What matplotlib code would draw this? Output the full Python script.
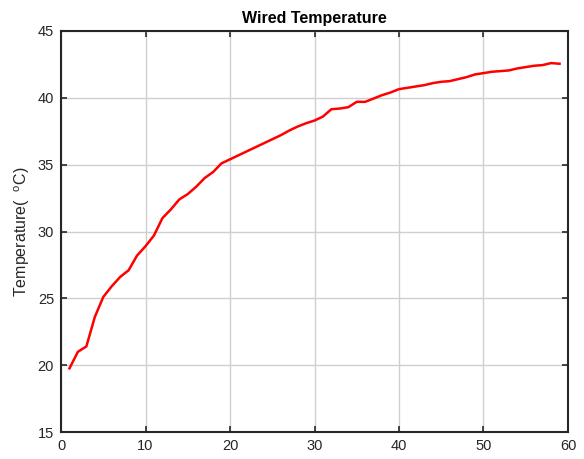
import matplotlib
matplotlib.use('Agg')
import matplotlib.pyplot as plt

plt.rcParams['font.family'] = ['Liberation Sans', 'DejaVu Sans']
plt.rcParams['mathtext.fontset'] = 'custom'
plt.rcParams['mathtext.rm'] = 'Liberation Sans'

timeSteps = list(range(1, 60))
temps = [19.76, 21.0, 21.4, 23.6, 25.1, 25.9, 26.6, 27.1, 28.2, 28.9,
         29.7, 31.0, 31.65, 32.4, 32.8, 33.35, 34.0, 34.45, 35.1, 35.4,
         35.7, 36.0, 36.3, 36.6, 36.9, 37.2, 37.55, 37.85, 38.1, 38.3,
         38.6, 39.15, 39.2, 39.3, 39.7, 39.7, 39.95, 40.2, 40.4, 40.65,
         40.75, 40.85, 40.95, 41.1, 41.2, 41.25, 41.4, 41.55, 41.75, 41.85,
         41.95, 42.0, 42.05, 42.2, 42.3, 42.4, 42.45, 42.6, 42.55]

xTicks = [0, 10, 20, 30, 40, 50, 60]
yTicks = [15, 20, 25, 30, 35, 40, 45]

fig = plt.figure(figsize=(5.84, 4.59), dpi=100)
ax = fig.add_axes([61 / 584, 27 / 459, 507 / 584, 401 / 459])
ax.plot(timeSteps, temps, color='red', linewidth=1.8)

ax.set_xlim(0, 60)
ax.set_ylim(15, 45)
ax.set_xticks(xTicks)
ax.set_yticks(yTicks)
ax.grid(True, color='#cfcfcf', linewidth=1.0)
ax.set_axisbelow(True)
ax.tick_params(direction='in', top=True, right=True, length=4, width=1.2,
               colors='#262626', labelsize=10.5, pad=5)
for sp in ax.spines.values():
    sp.set_linewidth(1.5)
    sp.set_color('#262626')

ax.set_title('Wired Temperature', fontsize=11.5, fontweight='bold', pad=6)
ax.set_ylabel('Temperature(  $^{\\rm o}$C)', fontsize=11.5, color='#262626',
              labelpad=4)

fig.savefig('out.png', dpi=100)
